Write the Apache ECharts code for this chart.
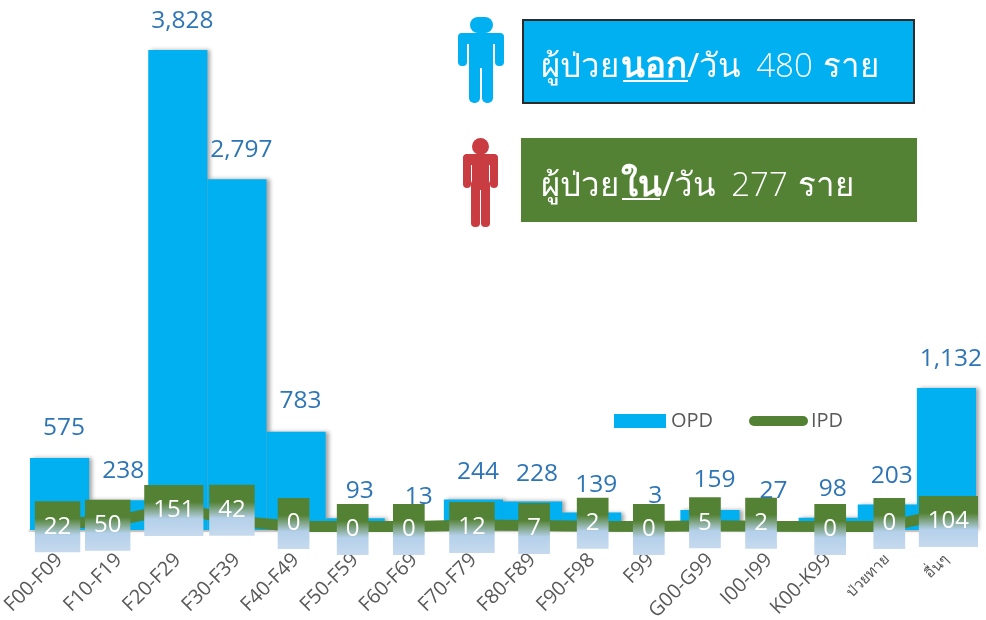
<!DOCTYPE html>
<html>
<head>
<meta charset="utf-8">
<style>
  html, body { margin: 0; padding: 0; background: #fff; }
  #chart { width: 986px; height: 620px; }
</style>
<script src="https://cdn.jsdelivr.net/npm/echarts@6/dist/echarts.min.js"></script>
</head>
<body>
<div id="chart"></div>
<script>
const categories = ['F00-F09', 'F10-F19', 'F20-F29', 'F30-F39', 'F40-F49', 'F50-F59', 'F60-F69', 'F70-F79',
  'F80-F89', 'F90-F98', 'F99', 'G00-G99', 'I00-I99', 'K00-K99', 'ป่วยทาย', 'อื่นๆ'];
const opd = [575, 238, 3828, 2797, 783, 93, 13, 244, 228, 139, 3, 159, 27, 98, 203, 1132];
const ipd = [22, 50, 151, 42, 0, 0, 0, 12, 7, 2, 0, 5, 2, 0, 0, 104];
// labels were hand placed in the original, so each one carries its own nudge
const opdShiftY = [-4, -4, -3, -4, -5, -2, -6, -2, -2, -2, -8, -5, -10, -3, -3, -4];
const boxShiftX = [-2, -11, -4, -5, -2.5, -2.5, -5.5, -1.5, 1.5, 1, -2, -5, -8, 2, 2, 2];
const boxShiftY = [3, 5, 3, -11, -3, 3, 3, 2.5, 3, -3, 3, -3, -3, 3, -3, 8];

const font = '"Open Sans", "Noto Sans", sans-serif';
const blue = '#00b0f0';
const green = '#548235';
const red = '#c93d42';

const boxFill = {
  type: 'linear', x: 0, y: 0, x2: 0, y2: 1,
  colorStops: [
    { offset: 0, color: green },
    { offset: 0.34, color: green },
    { offset: 0.66, color: '#b4d0ea' },
    { offset: 1, color: '#c6daee' }
  ]
};

function person(color, parts) {
  return parts.map(p => ({
    type: 'rect',
    shape: { x: p[0], y: p[1], width: p[2], height: p[3], r: p[4] },
    style: { fill: color }
  }));
}

function panelText(y, strong, rest) {
  return {
    type: 'text', left: 541, top: y,
    style: {
      text: '{a|ผู้ป่วย}{g|}{b|' + strong + '}{a|/วัน}{s|}{d|' + rest + '}{r|}{a|ราย}',
      rich: {
        a: { fontSize: 33, fontFamily: '"Noto Sans", sans-serif', fill: '#fff', fontWeight: 'normal' },
        d: { fontSize: 33, fontFamily: font, fill: '#fff', fontWeight: 300 },
        b: { fontSize: 35, fontFamily: font, fill: '#fff', fontWeight: 'bold' },
        g: { width: 2 },
        s: { width: 15 },
        r: { width: 10 }
      }
    }
  };
}

const chart = echarts.init(document.getElementById('chart'));

const option = {
  backgroundColor: '#fff',
  animation: false,
  textStyle: { fontFamily: font },
  grid: { left: 30, right: 10, top: 50, height: 480, outerBoundsMode: 'none' },
  legend: [
    {
      data: ['OPD'], left: 614, top: 411, padding: 0, icon: 'rect', itemWidth: 52, itemHeight: 14,
      textStyle: { fontSize: 20, color: '#595959', fontFamily: font }
    },
    {
      data: ['IPD'], left: 749, top: 411, padding: 0, itemWidth: 59, itemHeight: 10,
      icon: 'path://M5 0H54A5 5 0 0 1 54 10H5A5 5 0 0 1 5 0Z',
      textStyle: { fontSize: 20, color: '#595959', fontFamily: font, padding: [0, 0, 0, -2] }
    }
  ],
  xAxis: {
    type: 'category',
    data: categories,
    axisLine: { lineStyle: { color: '#d9d9d9', width: 3 } },
    axisTick: { alignWithLabel: false, length: 7, lineStyle: { color: '#d9d9d9', width: 2 } },
    axisLabel: {
      interval: 0, rotate: 45, margin: 27, fontSize: 20, color: '#595959', fontFamily: font,
      formatter: v => /[A-Z]/.test(v) ? v : '{th|' + v + '}',
      rich: { th: { fontSize: 15, color: '#595959' } }
    }
  },
  yAxis: [
    { type: 'value', min: 0, max: 3828, show: false },
    // line sits a little above the bars' base in the original
    { type: 'value', min: -28, max: 3800, show: false }
  ],
  series: [
    {
      name: 'OPD', type: 'bar', barWidth: '100%', z: 2,
      itemStyle: { color: blue, shadowColor: 'rgba(0,0,0,0.35)', shadowBlur: 4, shadowOffsetX: 3 },
      data: opd.map((v, i) => ({
        value: v,
        label: {
          show: true, position: 'top', distance: 13, offset: [4.5, opdShiftY[i]],
          fontSize: 24.5, color: '#2e75b6', fontFamily: font,
          formatter: p => p.value.toLocaleString('en-US')
        }
      }))
    },
    {
      name: 'IPD', type: 'line', yAxisIndex: 1, z: 5, showSymbol: true, symbol: 'circle', symbolSize: 1,
      itemStyle: { color: green },
      lineStyle: { color: green, width: 11 },
      data: ipd.map((v, i) => ({
        value: v,
        label: {
          show: true, position: 'inside', offset: [boxShiftX[i], boxShiftY[i]],
          fontSize: 24, lineHeight: 24, color: '#fff', fontFamily: font,
          padding: [20, 9, 7, 9], backgroundColor: boxFill
        }
      }))
    }
  ],
  graphic: { elements: [
    ...person(blue, [
      [470, 17, 23, 16, 8], [458, 33, 46, 11, 5], [458, 33, 9, 33, 4], [495, 33, 9, 33, 4],
      [469, 36, 24, 32, 0], [469, 60, 11, 43, 5], [482, 60, 11, 43, 5]
    ]),
    { type: 'rect', shape: { x: 523, y: 20, width: 391, height: 83 }, style: { fill: blue, stroke: '#2b2b2b', lineWidth: 2 } },
    panelText(50, 'นอก', '480'),
    { type: 'line', shape: { x1: 623, y1: 81, x2: 688, y2: 81 }, style: { stroke: '#fff', lineWidth: 2 } },
    ...person(red, [
      [472, 138, 17, 17, 8.5], [463, 154, 35, 11, 5], [463, 154, 8, 34, 4], [490, 154, 8, 34, 4],
      [472, 156, 17, 34, 0], [471, 180, 9, 47, 4], [481, 180, 9, 47, 4]
    ]),
    { type: 'rect', shape: { x: 521, y: 138, width: 396, height: 84 }, style: { fill: green } },
    panelText(169, 'ใน', '277'),
    { type: 'line', shape: { x1: 622, y1: 199, x2: 660, y2: 199 }, style: { stroke: '#fff', lineWidth: 2 } }
  ] }
};

chart.setOption(option);
</script>
</body>
</html>
